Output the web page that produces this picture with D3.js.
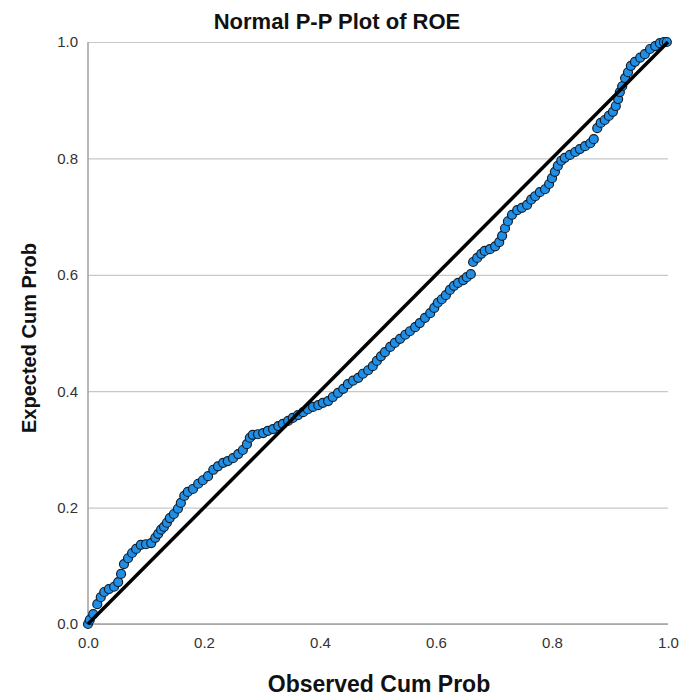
<!DOCTYPE html>
<html>
<head>
<meta charset="utf-8">
<script src="https://cdn.jsdelivr.net/npm/d3@7"></script>
<style>
  html, body { margin: 0; padding: 0; background: #fff; }
  svg { display: block; font-family: "Liberation Sans", Arial, sans-serif; }
</style>
</head>
<body>
<svg id="chart" width="685" height="700"></svg>
<script>
const title = "Normal P-P Plot of ROE";
const xTitle = "Observed Cum Prob";
const yTitle = "Expected Cum Prob";
const tickValues = [0, 0.2, 0.4, 0.6, 0.8, 1.0];

const observed = [
  0.000, 0.003, 0.009, 0.016, 0.022, 0.028, 0.036, 0.045, 0.052, 0.057,
  0.062, 0.069, 0.076, 0.083, 0.091, 0.100, 0.109, 0.116, 0.121, 0.126,
  0.131, 0.136, 0.141, 0.148, 0.155, 0.160, 0.166, 0.172, 0.181, 0.190,
  0.198, 0.207, 0.216, 0.224, 0.233, 0.241, 0.250, 0.259, 0.267, 0.274,
  0.279, 0.284, 0.293, 0.302, 0.310, 0.319, 0.328, 0.336, 0.345, 0.353,
  0.362, 0.371, 0.379, 0.388, 0.397, 0.405, 0.414, 0.422, 0.431, 0.440,
  0.448, 0.457, 0.466, 0.474, 0.483, 0.491, 0.498, 0.505, 0.512, 0.521,
  0.529, 0.538, 0.547, 0.555, 0.564, 0.572, 0.581, 0.590, 0.597, 0.603,
  0.610, 0.617, 0.624, 0.631, 0.638, 0.647, 0.653, 0.660, 0.664, 0.671,
  0.678, 0.684, 0.693, 0.702, 0.709, 0.714, 0.719, 0.724, 0.731, 0.740,
  0.748, 0.757, 0.764, 0.771, 0.779, 0.788, 0.795, 0.800, 0.805, 0.810,
  0.816, 0.822, 0.831, 0.840, 0.848, 0.857, 0.866, 0.872, 0.878, 0.884,
  0.891, 0.898, 0.905, 0.910, 0.914, 0.917, 0.921, 0.926, 0.931, 0.936,
  0.943, 0.952, 0.960, 0.969, 0.978, 0.986, 0.993, 0.998
];
const expected = [
  0.000, 0.007, 0.017, 0.034, 0.046, 0.055, 0.060, 0.064, 0.072, 0.086,
  0.103, 0.113, 0.122, 0.129, 0.136, 0.137, 0.139, 0.148, 0.155, 0.162,
  0.167, 0.174, 0.182, 0.189, 0.198, 0.208, 0.220, 0.227, 0.232, 0.241,
  0.247, 0.254, 0.265, 0.271, 0.277, 0.280, 0.285, 0.292, 0.299, 0.309,
  0.320, 0.325, 0.326, 0.328, 0.332, 0.335, 0.340, 0.344, 0.349, 0.354,
  0.359, 0.364, 0.369, 0.373, 0.376, 0.380, 0.383, 0.390, 0.397, 0.404,
  0.412, 0.418, 0.423, 0.430, 0.436, 0.443, 0.452, 0.460, 0.467, 0.476,
  0.483, 0.490, 0.497, 0.503, 0.510, 0.517, 0.526, 0.534, 0.543, 0.552,
  0.558, 0.565, 0.574, 0.581, 0.586, 0.591, 0.596, 0.601, 0.622, 0.629,
  0.636, 0.641, 0.644, 0.649, 0.656, 0.667, 0.680, 0.692, 0.703, 0.711,
  0.715, 0.720, 0.729, 0.735, 0.742, 0.747, 0.756, 0.766, 0.777, 0.787,
  0.796, 0.801, 0.806, 0.811, 0.816, 0.821, 0.826, 0.833, 0.852, 0.861,
  0.866, 0.873, 0.880, 0.890, 0.902, 0.914, 0.924, 0.938, 0.948, 0.959,
  0.966, 0.973, 0.979, 0.988, 0.993, 0.998, 1.000, 1.000
];
const refLine = [0, 1];

const svg = d3.select("#chart");
const plotL = 88, plotR = 668, plotT = 42, plotB = 624;

const x = d3.scaleLinear().domain([0, 1]).range([plotL, plotR]);
const y = d3.scaleLinear().domain([0, 1]).range([plotB, plotT]);

// gridlines
svg.append("g")
  .attr("transform", `translate(${plotL},0)`)
  .call(d3.axisLeft(y).tickValues(tickValues).tickSize(-(plotR - plotL)).tickFormat(""))
  .call(g => g.select(".domain").remove())
  .call(g => g.selectAll("line").attr("stroke", "#c8c8c8").attr("stroke-width", 1.2));

// axis lines
svg.append("line").attr("x1", plotL).attr("x2", plotL).attr("y1", plotT).attr("y2", plotB)
  .attr("stroke", "#a0a0a0").attr("stroke-width", 1.5);
svg.append("line").attr("x1", plotL).attr("x2", plotR).attr("y1", plotB).attr("y2", plotB)
  .attr("stroke", "#a0a0a0").attr("stroke-width", 1.5);

// tick labels
const yAx = svg.append("g")
  .attr("transform", `translate(${plotL},0)`)
  .call(d3.axisLeft(y).tickValues(tickValues).tickSize(0).tickPadding(10).tickFormat(d3.format(".1f")));
yAx.select(".domain").remove();
yAx.selectAll("text").attr("font-size", 15).attr("fill", "#333")
  .attr("font-family", "Liberation Sans, Arial, sans-serif");

const xAx = svg.append("g")
  .attr("transform", `translate(0,${plotB})`)
  .call(d3.axisBottom(x).tickValues(tickValues).tickSize(0).tickPadding(13).tickFormat(d3.format(".1f")));
xAx.select(".domain").remove();
xAx.selectAll("text").attr("font-size", 15).attr("fill", "#333")
  .attr("font-family", "Liberation Sans, Arial, sans-serif");

// points
const data = observed.map((d, i) => ({ o: d, e: expected[i] }));
svg.append("g").selectAll("circle").data(data).join("circle")
  .attr("cx", d => x(d.o))
  .attr("cy", d => y(d.e))
  .attr("r", 4.5)
  .attr("fill", "#1f8ee6")
  .attr("stroke", "#13202c")
  .attr("stroke-width", 1.2);

// reference line
svg.append("line")
  .attr("x1", x(refLine[0])).attr("y1", y(refLine[0]))
  .attr("x2", x(refLine[1])).attr("y2", y(refLine[1]))
  .attr("stroke", "#000").attr("stroke-width", 3.5);

// titles
svg.append("text").attr("x", 337).attr("y", 29).attr("text-anchor", "middle")
  .attr("font-size", 22).attr("font-weight", "bold").attr("fill", "#111").text(title);
svg.append("text").attr("x", 379).attr("y", 692).attr("text-anchor", "middle")
  .attr("font-size", 23).attr("font-weight", "bold").attr("fill", "#111").text(xTitle);
svg.append("text").attr("transform", "translate(36,338) rotate(-90)").attr("text-anchor", "middle")
  .attr("font-size", 20).attr("font-weight", "bold").attr("fill", "#111").text(yTitle);
</script>
</body>
</html>
